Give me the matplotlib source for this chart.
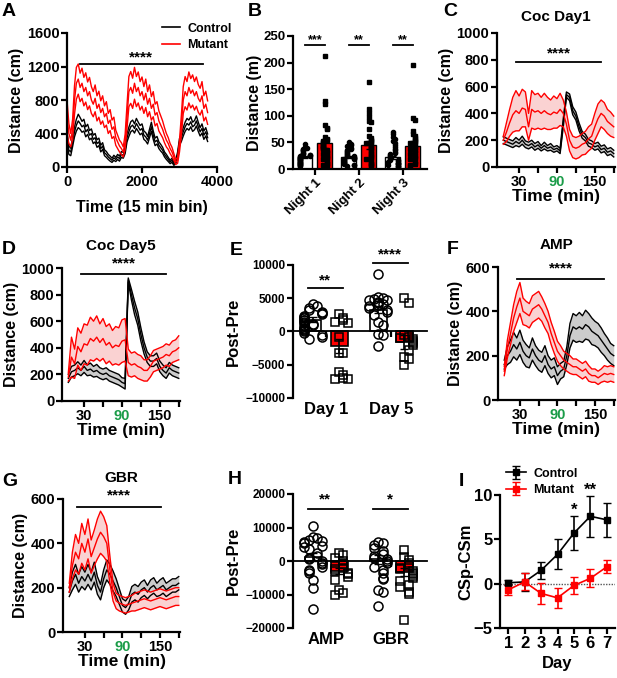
import numpy as np
import matplotlib
matplotlib.use('Agg')
import matplotlib.pyplot as plt
from matplotlib.lines import Line2D

plt.rcParams['font.family'] = ['Liberation Sans', 'DejaVu Sans']
plt.rcParams['font.weight'] = 'bold'
plt.rcParams['axes.labelweight'] = 'bold'

RED = '#ff0000'
PINK = '#fad2d2'
GREY = '#cccccc'
GREEN = '#1a9c48'
W, H = 617, 678

# ---- A: home cage activity, 15 min bins
a_time = list(range(0, 3800, 50))
a_ctrl = [350, 200, 180, 300, 420, 500, 550, 520, 480, 500, 420, 450, 380, 400, 330, 350, 280, 300, 220, 250,
          170, 150, 120, 100, 80, 110, 90, 120, 100, 150, 140, 200, 350, 420, 480, 500, 460, 520, 480, 440,
          460, 380, 360, 320, 400, 480, 380, 300, 320, 260, 230, 200, 150, 120, 90, 60, 80, 40, 60, 150,
          300, 350, 420, 480, 520, 500, 540, 480, 500, 550, 480, 420, 460, 380, 420, 350]
a_ctrl_sem = [60, 50, 45, 55, 60, 70, 80, 70, 65, 70, 60, 60, 55, 55, 50, 50, 45, 45, 40, 40,
              35, 35, 30, 30, 25, 30, 25, 30, 30, 35, 35, 40, 50, 55, 60, 60, 55, 60, 55, 55,
              55, 50, 50, 45, 50, 55, 50, 45, 45, 40, 40, 35, 30, 30, 25, 20, 25, 20, 20, 30,
              40, 45, 50, 55, 60, 60, 60, 55, 55, 60, 55, 50, 55, 50, 50, 45]
a_mut = [600, 400, 320, 450, 800, 1000, 1050, 950, 1000, 900, 950, 850, 900, 800, 750, 820, 700, 750, 650, 700,
         600, 640, 520, 560, 450, 480, 350, 300, 250, 220, 180, 300, 600, 900, 950, 880, 1000, 900, 950, 850,
         900, 800, 880, 750, 820, 700, 750, 620, 650, 550, 500, 450, 380, 320, 280, 220, 180, 120, 60, 80,
         250, 500, 800, 900, 850, 950, 880, 920, 850, 900, 820, 780, 850, 700, 750, 650]
a_mut_sem = [200, 120, 80, 120, 170, 190, 180, 170, 180, 170, 175, 165, 170, 160, 150, 160, 150, 155, 140, 150,
             130, 140, 120, 125, 110, 115, 90, 80, 70, 70, 60, 90, 140, 180, 190, 180, 190, 180, 185, 170,
             175, 160, 170, 150, 160, 140, 150, 130, 130, 120, 110, 100, 90, 80, 70, 60, 55, 40, 30, 35,
             70, 120, 160, 180, 170, 185, 175, 180, 170, 175, 165, 160, 170, 150, 155, 140]

# ---- B: night distance (m)
nights = ['Night 1', 'Night 2', 'Night 3']
b_ctrl_mean = [22, 22, 22]
b_ctrl_sem = [2, 2, 3]
b_mut_mean = [48, 45, 44]
b_mut_sem = [8, 7, 8]
b_ctrl_pts = [
    [47, 42, 40, 38, 36, 35, 33, 31, 30, 28, 27, 26, 25, 24, 23, 22, 21, 20, 19, 18, 17, 16, 15, 14, 13, 12, 11, 10, 9, 8, 7, 6],
    [50, 47, 45, 43, 40, 38, 36, 34, 32, 30, 28, 26, 25, 24, 22, 21, 20, 19, 18, 17, 16, 15, 14, 13, 12, 11, 10, 8, 7, 5],
    [70, 65, 60, 57, 52, 48, 45, 42, 38, 35, 32, 30, 28, 26, 24, 22, 20, 18, 17, 16, 15, 14, 12, 11, 10, 9, 8, 6, 5, 4]]
b_mut_pts = [
    [212, 127, 122, 82, 78, 75, 60, 56, 54, 52, 50, 48, 46, 44, 42, 40, 38, 35, 32, 30, 28, 25, 22, 20, 18, 15, 12, 10, 8, 5],
    [163, 113, 105, 97, 90, 88, 75, 62, 58, 55, 52, 50, 48, 45, 42, 40, 37, 34, 31, 28, 25, 22, 20, 18, 15, 12, 10, 7, 5],
    [195, 95, 92, 72, 65, 62, 58, 55, 52, 50, 48, 45, 42, 40, 38, 35, 32, 30, 28, 25, 22, 20, 18, 15, 12, 10, 8, 6]]
b_stars = ['***', '**', '**']

# ---- C, D, F, G: drug time courses (5 min bins)
time_min = list(range(5, 185, 5))
c_ctrl = [200, 190, 180, 170, 190, 175, 200, 170, 160, 175, 150, 165, 140, 160, 140, 150, 130, 140,
          120, 330, 540, 520, 420, 380, 300, 240, 220, 180, 170, 150, 160, 130, 140, 110, 120, 100]
c_ctrl_sem = [25, 25, 25, 25, 30, 25, 30, 25, 25, 25, 25, 25, 20, 25, 20, 25, 20, 20,
              20, 30, 20, 25, 30, 30, 30, 25, 25, 25, 25, 25, 25, 25, 25, 25, 25, 25]
c_mut = [200, 260, 330, 390, 420, 400, 440, 430, 300, 430, 410, 420, 400, 420, 400, 390, 410, 400,
         430, 400, 320, 200, 150, 140, 150, 170, 180, 210, 230, 300, 360, 400, 380, 340, 320, 300]
c_mut_sem = [30, 70, 100, 130, 150, 130, 140, 130, 100, 140, 130, 130, 120, 130, 120, 110, 120, 110,
             120, 100, 90, 80, 80, 80, 80, 80, 85, 90, 90, 100, 110, 100, 100, 90, 90, 80]

d_ctrl = [170, 220, 230, 250, 230, 260, 230, 240, 220, 230, 210, 200, 210, 190, 180, 170, 160, 140,
          130, 910, 800, 700, 620, 500, 400, 330, 300, 300, 320, 260, 230, 210, 250, 230, 220, 210]
d_ctrl_sem = [30, 40, 40, 45, 40, 45, 40, 45, 40, 45, 40, 40, 40, 40, 40, 40, 40, 35,
              40, 15, 40, 50, 50, 50, 45, 40, 40, 40, 40, 40, 40, 40, 40, 40, 40, 40]
d_mut = [180, 330, 280, 410, 370, 430, 420, 470, 450, 480, 440, 470, 420, 440, 400, 420, 410, 450,
         460, 290, 270, 280, 260, 250, 230, 230, 260, 300, 310, 320, 330, 350, 340, 370, 380, 400]
d_mut_sem = [30, 150, 110, 140, 140, 150, 150, 160, 150, 160, 140, 150, 140, 140, 130, 140, 140, 160,
             160, 100, 90, 90, 90, 90, 80, 80, 80, 80, 80, 80, 80, 80, 80, 80, 80, 90]

f_ctrl = [160, 200, 220, 250, 230, 260, 220, 200, 190, 230, 200, 180, 170, 200, 160, 140, 150, 110,
          130, 140, 200, 290, 330, 320, 330, 320, 340, 330, 310, 300, 290, 270, 250, 230, 210, 200]
f_ctrl_sem = [20, 40, 50, 55, 50, 55, 50, 50, 45, 50, 45, 45, 45, 45, 40, 40, 40, 40,
              35, 35, 40, 55, 60, 60, 65, 60, 65, 60, 60, 55, 55, 55, 50, 50, 45, 45]
f_mut = [130, 230, 300, 370, 420, 460, 400, 390, 380, 410, 420, 430, 410, 380, 350, 300, 260, 220,
         200, 180, 170, 160, 150, 150, 140, 130, 140, 120, 110, 110, 100, 110, 120, 115, 120, 115]
f_mut_sem = [20, 40, 50, 60, 70, 70, 60, 55, 55, 60, 60, 60, 55, 55, 50, 50, 50, 45,
             45, 40, 40, 40, 35, 35, 35, 35, 35, 35, 30, 30, 30, 30, 35, 35, 35, 35]

g_ctrl = [180, 230, 260, 220, 250, 230, 260, 230, 270, 210, 180, 240, 280, 260, 230, 200, 160, 120,
          110, 130, 170, 180, 170, 190, 200, 180, 200, 210, 190, 200, 210, 190, 200, 210, 210, 220]
g_ctrl_sem = [20, 40, 45, 40, 45, 40, 45, 40, 45, 40, 35, 40, 45, 45, 45, 40, 35, 30,
              30, 30, 35, 35, 35, 35, 35, 30, 35, 35, 30, 35, 35, 30, 30, 30, 30, 30]
g_mut = [200, 300, 360, 330, 400, 360, 420, 340, 380, 420, 450, 430, 400, 280, 180, 140, 130, 125,
         120, 125, 130, 135, 140, 145, 150, 145, 140, 145, 150, 155, 150, 145, 150, 155, 160, 160]
g_mut_sem = [20, 60, 80, 70, 90, 80, 90, 75, 80, 90, 95, 90, 80, 60, 40, 35, 35, 35,
             35, 35, 35, 40, 40, 40, 40, 40, 40, 40, 40, 40, 40, 40, 40, 40, 40, 40]

# ---- E, H: post-pre difference
e_groups = ['Day 1', 'Day 5']
e_ctrl_mean = [1800, 3300]
e_ctrl_sem = [400, 550]
e_mut_mean = [-2200, -1600]
e_mut_sem = [1000, 1000]
e_ctrl_pts = [
    [4200, 3800, 3500, 3200, 3000, 2800, 2600, 2400, 2200, 2000, 1800, 1700, 1500, 1300, 1200, 1000, 800, 600,
     400, 200, 0, -200, -500, -800, -1200],
    [8700, 5200, 5000, 4900, 4800, 4700, 4500, 4300, 4200, 4000, 3800, 3500, 3200, 3000, 2500, 1500, 1000,
     -400, -600, -2200]]
e_mut_pts = [
    [2700, 2000, 1800, 1500, 1300, -800, -3200, -3300, -6100, -6600, -7000, -7100, -7200],
    [5000, 4300, -500, -800, -1000, -1200, -1500, -1800, -2000, -2800, -3800, -4100, -5000]]
e_stars = ['**', '****']
e_star_y = [6500, 10350]

h_groups = ['AMP', 'GBR']
h_ctrl_mean = [1300, 500]
h_ctrl_sem = [1200, 1300]
h_mut_mean = [-3000, -3300]
h_mut_sem = [1000, 1100]
h_ctrl_pts = [
    [10500, 7300, 7000, 6300, 6000, 5800, 5300, 4500, 4300, 3500, 2500, 1500, 1000, 500, 0, -500, -1000,
     -1700, -2700, -3000, -3500, -5700, -8200, -14200],
    [5800, 5300, 4800, 3800, 3000, 2000, 1500, 1000, 500, 0, -500, -1700, -2700, -3500, -5200, -5500,
     -8700, -9200, -13400]]
h_mut_pts = [
    [2300, 1800, 1000, 0, -1000, -2000, -2500, -3000, -3500, -4000, -4700, -5700, -8700, -9700, -10200],
    [3300, 1300, 300, -500, -1500, -2000, -2500, -3000, -3500, -4000, -4500, -5000, -6000, -7200, -7700,
     -9200, -9900, -17600]]
h_stars = ['**', '*']
h_star_y = [15500, 15500]

# ---- I: conditioning
days = [1, 2, 3, 4, 5, 6, 7]
i_ctrl = [0.1, 0.2, 1.5, 3.3, 5.7, 7.6, 7.2]
i_ctrl_sem = [0.3, 1.0, 1.0, 1.7, 1.9, 2.3, 1.9]
i_mut = [-0.7, 0.2, -1.1, -1.6, -0.2, 0.6, 1.9]
i_mut_sem = [0.55, 0.95, 1.15, 1.1, 0.95, 1.0, 0.75]


fig = plt.figure(figsize=(6.17, 6.78), dpi=100)


def add_ax(l, r, t, b):
    return fig.add_axes([l / W, 1 - b / H, (r - l) / W, (b - t) / H])


def style(ax, fs=10.5):
    ax.spines['top'].set_visible(False)
    ax.spines['right'].set_visible(False)
    ax.spines['left'].set_linewidth(1.6)
    ax.spines['bottom'].set_linewidth(1.6)
    ax.tick_params(width=1.6, length=4, labelsize=fs, pad=1.5)
    ax.tick_params(which='minor', width=1.6, length=4)


def letter(x, y, s):
    fig.text(x / W, 1 - y / H, s, fontsize=14, fontweight='bold', va='center', ha='left')


def sig(ax, x0, x1, y, txt, dy, fs=11):
    ax.plot([x0, x1], [y, y], color='black', lw=1.3, clip_on=False)
    ax.text((x0 + x1) / 2, y + dy, txt, ha='center', va='center', fontsize=fs, clip_on=False)


def spread(vals, step, tol):
    # deterministic side-by-side placement of points with close values
    pattern = [0, 1, -1, 2, -2]
    placed = []
    offs = []
    for v in vals:
        n = sum(1 for p in placed if abs(p - v) < tol)
        offs.append(pattern[n % len(pattern)] * step)
        placed.append(v)
    return np.array(offs)


def band(ax, t, m, s, line, fill):
    m = np.array(m, float)
    s = np.array(s, float)
    ax.fill_between(t, m - s, m + s, color=fill, lw=0)
    for y in (m - s, m, m + s):
        ax.plot(t, y, color=line, lw=1)


def timecourse(ax, ctrl, ctrl_s, mut, mut_s, ymax, ystep, title, tpad, sx, sy, sdy):
    band(ax, time_min, ctrl, ctrl_s, 'black', GREY)
    band(ax, time_min, mut, mut_s, RED, PINK)
    ax.set_xlim(-5, 182)
    ax.set_ylim(0, ymax)
    ax.set_yticks(np.arange(0, ymax + 1, ystep))
    ax.set_xticks([30, 60, 90, 120, 150, 180])
    ax.set_xticklabels(['30', '', '90', '', '150', ''])
    ax.get_xticklabels()[2].set_color(GREEN)
    style(ax)
    ax.set_ylabel('Distance (cm)', fontsize=11.5, labelpad=2)
    ax.set_xlabel('Time (min)', fontsize=12.5, labelpad=0)
    ax.set_title(title, fontsize=11, fontweight='bold', pad=tpad)
    sig(ax, sx[0], sx[1], sy, '****', sdy)


# A
ax = add_ax(67, 217, 33, 167)
band(ax, a_time, a_ctrl, a_ctrl_sem, 'black', 'none')
band(ax, a_time, a_mut, a_mut_sem, RED, 'none')
ax.set_xlim(0, 4000)
ax.set_ylim(0, 1600)
ax.set_xticks([0, 2000, 4000])
ax.set_yticks([0, 400, 800, 1200, 1600])
style(ax)
ax.set_ylabel('Distance (cm)', fontsize=11.5, labelpad=2)
ax.set_xlabel('Time (15 min bin)', fontsize=11.5, labelpad=8)
sig(ax, 340, 3630, 1230, '****', 80)
ax.legend(handles=[Line2D([], [], color='black', lw=1.2), Line2D([], [], color=RED, lw=1.2)],
          labels=['Control', 'Mutant'], loc='upper left', bbox_to_anchor=(0.56, 1.16),
          frameon=False, fontsize=9, handlelength=1.4, handletextpad=0.6, labelspacing=0.35)
letter(2, 12, 'A')

# B
ax = add_ax(293, 427, 36, 169)
for g in range(3):
    xc, xm = g - 0.227, g + 0.227
    ax.bar(xc, b_ctrl_mean[g], width=0.34, color='white', edgecolor='black', lw=1, zorder=1)
    ax.bar(xm, b_mut_mean[g], width=0.34, color=RED, edgecolor='black', lw=1, zorder=1)
    ax.plot(xc + spread(b_ctrl_pts[g], 0.055, 5), b_ctrl_pts[g], 'o', color='black', ms=3, zorder=3)
    ax.plot(xm + spread(b_mut_pts[g], 0.055, 5), b_mut_pts[g], 's', color='black', ms=2.6, zorder=3)
    ax.errorbar([xc, xm], [b_ctrl_mean[g], b_mut_mean[g]], yerr=[b_ctrl_sem[g], b_mut_sem[g]],
                fmt='none', ecolor='black', elinewidth=1, capsize=2, zorder=4)
    sig(ax, xc, xm, 233, b_stars[g], 9, fs=9)
ax.set_xlim(-0.5, 2.55)
ax.set_ylim(0, 250)
ax.set_yticks([0, 50, 100, 150, 200, 250])
ax.set_xticks([0, 1, 2])
ax.set_xticklabels(nights, rotation=45, ha='right', rotation_mode='anchor', fontsize=10)
style(ax, fs=9.5)
ax.set_ylabel('Distance (m)', fontsize=11.5, labelpad=1)
letter(248, 12, 'B')

# C
ax = add_ax(497, 615, 33, 167)
timecourse(ax, c_ctrl, c_ctrl_sem, c_mut, c_mut_sem, 1000, 200, 'Coc Day1', 9, (25, 160), 785, 65)
letter(443, 12, 'C')

# D
ax = add_ax(62, 180, 268, 401)
timecourse(ax, d_ctrl, d_ctrl_sem, d_mut, d_mut_sem, 1000, 200, 'Coc Day5', 13, (25, 160), 955, 80)
letter(2, 250, 'D')

# F
ax = add_ax(498, 615, 267, 400)
timecourse(ax, f_ctrl, f_ctrl_sem, f_mut, f_mut_sem, 600, 200, 'AMP', 13, (25, 165), 548, 46)
letter(447, 249, 'F')

# G
ax = add_ax(63, 180, 499, 632)
timecourse(ax, g_ctrl, g_ctrl_sem, g_mut, g_mut_sem, 600, 200, 'GBR', 12, (18, 152), 565, 52)
letter(2, 482, 'G')


def postpre(ax, groups, cm, cs, mm, ms, cp, mp, stars, star_y, ylim, step, sdy, tol):
    for g in range(2):
        xc = 2.5 * g
        xm = xc + 1
        ax.bar(xc, cm[g], width=0.65, color='white', edgecolor='black', lw=1.2, zorder=1)
        ax.bar(xm, mm[g], width=0.65, color=RED, edgecolor='black', lw=1.2, zorder=1)
        ax.errorbar([xc, xm], [cm[g], mm[g]], yerr=[cs[g], ms[g]], fmt='none', ecolor='black',
                    elinewidth=1.2, capsize=3, zorder=2)
        ax.plot(xc + spread(cp[g], 0.17, tol), cp[g], 'o', mfc='none', mec='black', mew=1.1, ms=6.5, zorder=3)
        ax.plot(xm + spread(mp[g], 0.17, tol), mp[g], 's', mfc='none', mec='black', mew=1.1, ms=6, zorder=3)
        sig(ax, xc - 0.2, xm + 0.15, star_y[g], stars[g], sdy)
        ax.text(xc + 0.5, -0.03, groups[g], transform=ax.get_xaxis_transform(), ha='center', va='top',
                fontsize=12)
    ax.set_xlim(-0.77, 4.38)
    ax.set_ylim(-ylim, ylim)
    ax.set_yticks(np.arange(-ylim, ylim + 1, step))
    ax.spines['bottom'].set_position(('data', 0))
    ax.set_xticks([0.5, 3.0])
    ax.set_xticklabels(['', ''])
    style(ax, fs=8.5)
    ax.spines['bottom'].set_linewidth(1.3)
    ax.set_ylabel('Post-Pre', fontsize=12, labelpad=3)


# E
ax = add_ax(293, 427, 265, 398)
postpre(ax, e_groups, e_ctrl_mean, e_ctrl_sem, e_mut_mean, e_mut_sem, e_ctrl_pts, e_mut_pts,
        e_stars, e_star_y, 10000, 5000, 1200, 900)
letter(230, 251, 'E')

# H
ax = add_ax(293, 427, 494, 628)
postpre(ax, h_groups, h_ctrl_mean, h_ctrl_sem, h_mut_mean, h_mut_sem, h_ctrl_pts, h_mut_pts,
        h_stars, h_star_y, 20000, 10000, 2800, 1800)
letter(228, 480, 'H')

# I
ax = add_ax(500, 615, 495, 628)
ax.axhline(0, color='#555555', lw=1, ls=(0, (1, 1)), zorder=0)
ax.errorbar(days, i_ctrl, yerr=i_ctrl_sem, color='black', marker='s', ms=5, lw=1.2,
            capsize=3, elinewidth=1.2, label='Control')
ax.errorbar(days, i_mut, yerr=i_mut_sem, color=RED, marker='s', ms=5, lw=1.2,
            capsize=3, elinewidth=1.2, label='Mutant')
ax.text(5, 8.3, '*', ha='center', va='center', fontsize=12)
ax.text(6, 10.5, '**', ha='center', va='center', fontsize=12)
ax.set_xlim(0.5, 7.5)
ax.set_ylim(-5, 10)
ax.set_xticks(days)
ax.set_yticks([-5, 0, 5, 10])
style(ax, fs=12)
ax.set_xlabel('Day', fontsize=12, labelpad=4)
ax.set_ylabel('CSp-CSm', fontsize=12, labelpad=0)
ax.legend(loc='upper left', bbox_to_anchor=(-0.05, 1.29), frameon=False, fontsize=9,
          handlelength=1.6, handletextpad=0.6, labelspacing=0.35)
letter(459, 481, 'I')

fig.savefig('out.png', dpi=100)
